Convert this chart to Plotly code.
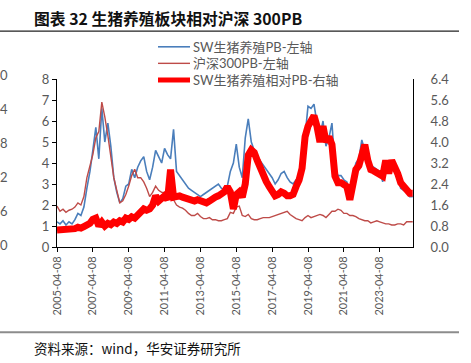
import pandas as pd
import plotly.graph_objects as go

# bimonthly observation dates (2005-04-08 ... 2025-02-08)
dates = pd.date_range("2005-04-01", periods=120, freq="2MS") + pd.Timedelta(days=7)

sw_pb = [
    1.2, 1.1, 1.25, 1.05, 1.2,
    1.1, 1.3, 1.6, 1.5, 1.9, 2.8,
    3.6, 4.6, 5.7, 4.2, 6.6, 5.0,
    5.9, 4.8, 3.3, 2.6, 2.1, 2.3,
    2.9, 3.0, 3.7, 3.3, 3.8, 4.1,
    4.3, 3.6, 3.2, 3.8, 4.6, 4.3,
    4.0, 4.7, 4.4, 4.2, 5.6, 3.6,
    3.4, 3.2, 3.0, 2.8, 2.7, 2.6,
    2.5, 2.4, 2.5, 2.6, 2.7, 2.8,
    2.9, 3.0, 2.8, 2.7, 2.9, 3.6,
    4.0, 4.9, 3.8, 3.3, 5.2, 6.1,
    5.0, 4.6, 4.3, 4.1, 3.9, 3.7,
    3.5, 3.3, 3.0, 3.2, 3.5, 3.6,
    3.3, 3.1, 3.0, 3.2, 3.3, 3.8,
    5.3, 6.7, 6.6, 6.8, 5.9, 5.3,
    6.0, 4.8, 5.2, 5.9, 3.8, 3.4,
    3.4, 3.2, 3.1, 2.6, 3.4, 4.0,
    4.2, 5.1, 4.6, 4.0, 3.9, 3.8,
    3.7, 3.6, 3.1, 3.9, 4.0, 3.8,
    3.9, 3.4, 2.8, 2.7, 2.6, 2.4,
    2.4,
]

hs300_pb = [
    1.95, 1.7, 1.8, 1.65, 1.75,
    1.8, 1.9, 2.1, 2.0, 2.4, 3.3,
    3.8, 4.4, 5.2, 5.5, 6.9, 6.2,
    5.3, 4.3, 3.3, 2.7, 2.1, 2.2,
    2.5, 2.9, 3.4, 3.7, 3.3, 3.3,
    3.1, 2.8, 2.4, 2.6, 2.9, 2.7,
    2.6, 2.6, 2.4, 2.3, 2.25, 2.0,
    1.9, 1.85, 1.75, 1.6, 1.5, 1.5,
    1.6, 1.45, 1.35, 1.35, 1.4, 1.3,
    1.3, 1.25, 1.25, 1.3, 1.35, 1.65,
    1.6, 1.9, 1.95, 1.5, 1.45, 1.55,
    1.35, 1.3, 1.3, 1.35, 1.4, 1.4,
    1.4, 1.45, 1.5, 1.55, 1.6, 1.65,
    1.7, 1.55, 1.45, 1.35, 1.3, 1.25,
    1.4, 1.5, 1.4, 1.45, 1.5, 1.55,
    1.5, 1.4, 1.55, 1.7, 1.7, 1.8,
    1.75, 1.6, 1.6, 1.5, 1.5, 1.45,
    1.35, 1.3, 1.25, 1.25, 1.15, 1.2,
    1.25, 1.2, 1.15, 1.1, 1.1, 1.05,
    1.05, 1.1, 1.1, 1.05, 1.2, 1.2,
    1.2,
]

rel_pb = [
    0.65, 0.65, 0.7, 0.65, 0.68,
    0.65, 0.7, 0.75, 0.72, 0.78, 0.85,
    0.9, 1.05, 1.1, 0.8, 0.95, 0.8,
    0.9, 0.85, 0.95, 0.9, 1.0, 0.95,
    1.1, 1.05, 1.15, 1.1, 1.25, 1.35,
    1.45, 1.4, 1.45, 1.6, 1.95, 1.75,
    1.85, 1.95, 1.8, 2.95, 1.9, 1.95,
    1.95, 1.9, 1.85, 1.8, 1.75, 1.75,
    1.8, 1.75, 1.7, 1.68, 1.75, 1.85,
    1.9, 1.95, 2.0, 2.1, 2.3, 2.1,
    1.45, 2.0, 2.1, 1.9, 2.4, 3.5,
    3.7, 3.6, 3.3, 3.0, 2.8, 2.5,
    2.3, 2.1, 1.95, 2.0, 2.1, 2.05,
    1.95, 1.95, 2.0, 2.3, 2.55, 3.0,
    4.2, 4.6, 4.8, 5.0, 4.6, 4.0,
    4.6, 4.0, 4.2, 3.9, 2.7, 2.45,
    2.45, 2.4, 2.3, 1.8, 2.5, 2.95,
    3.1, 3.5, 3.9, 3.3, 2.95, 2.9,
    2.85, 2.8, 2.7, 3.3, 2.8, 3.3,
    3.1, 2.8, 2.45, 2.3, 2.1, 2.05,
    2.05,
]

tick_dates = ["2005-04-08", "2007-04-08", "2009-04-08", "2011-04-08", "2013-04-08",
              "2015-04-08", "2017-04-08", "2019-04-08", "2021-04-08", "2023-04-08"]

legend_names = ["SW生猪养殖PB-左轴", "沪深300PB-左轴", "SW生猪养殖相对PB-右轴"]
colors = ["#4A7EBB", "#BE4B48", "#FF0000"]
widths = [1.6, 1.4, 7]

W, H = 471, 363
L, R, T, B = 57, 413, 79, 247.5
FONT = "Lato, 'Noto Sans CJK SC', sans-serif"
GREY = "#595959"

def px(x):
    return (x - L) / (R - L)

def py(y):
    return (B - y) / (B - T)

fig = go.Figure()
fig.add_trace(go.Scatter(x=dates, y=sw_pb, mode="lines", name=legend_names[0],
                         line=dict(color=colors[0], width=widths[0]), showlegend=False))
fig.add_trace(go.Scatter(x=dates, y=hs300_pb, mode="lines", name=legend_names[1],
                         line=dict(color=colors[1], width=widths[1]), showlegend=False))
fig.add_trace(go.Scatter(x=dates, y=rel_pb, mode="lines", name=legend_names[2], yaxis="y2",
                         line=dict(color=colors[2], width=widths[2]), showlegend=False))

shapes = []
annotations = []

# manual legend
leg_y = [46.7, 63.3, 80.0]
for i in range(3):
    shapes.append(dict(type="line", xref="paper", yref="paper",
                       x0=px(158), x1=px(190), y0=py(leg_y[i]), y1=py(leg_y[i]),
                       line=dict(color=colors[i], width=widths[i] if i < 2 else 5)))
    annotations.append(dict(text=legend_names[i], xref="paper", yref="paper",
                            x=px(191), y=py(leg_y[i]), xanchor="left", yanchor="middle",
                            showarrow=False, font=dict(family=FONT, size=13, color=GREY)))

# title and frame lines
annotations.append(dict(text="<b>图表 32 生猪养殖板块相对沪深 300PB</b>", xref="paper", yref="paper",
                        x=px(32), y=py(18), xanchor="left", yanchor="middle", showarrow=False,
                        font=dict(family="'Noto Sans CJK SC', sans-serif", size=15.8, color="#111111")))
shapes.append(dict(type="line", xref="paper", yref="paper", x0=px(0), x1=px(459),
                   y0=py(31), y1=py(31), line=dict(color="#222222", width=1.3)))
shapes.append(dict(type="line", xref="paper", yref="paper", x0=px(0), x1=px(459),
                   y0=py(333), y1=py(333), line=dict(color="#8C8C8C", width=2)))
annotations.append(dict(text="资料来源：wind，华安证券研究所", xref="paper", yref="paper",
                        x=px(32), y=py(349), xanchor="left", yanchor="middle", showarrow=False,
                        font=dict(family="'Noto Sans CJK SC', sans-serif", size=13.5, color="#111111")))

# clipped labels of a neighbouring chart at the far left
ghost = ["0", "4", "8", "2", "6", "0"]
ghost_y = [75, 109, 143, 177, 211, 245]
for t, gy in zip(ghost, ghost_y):
    annotations.append(dict(text=t, xref="paper", yref="paper", x=px(4), y=py(gy),
                            xanchor="center", yanchor="middle", showarrow=False,
                            font=dict(family=FONT, size=13, color=GREY)))

fig.update_layout(
    width=W, height=H,
    margin=dict(l=L, r=W - R, t=T, b=H - B),
    paper_bgcolor="white", plot_bgcolor="white",
    showlegend=False,
    font=dict(family=FONT, size=12, color=GREY),
    xaxis=dict(type="date", range=["2005-04-08", "2025-02-14"],
               tickvals=tick_dates, ticktext=tick_dates, tickangle=-90,
               tickfont=dict(size=11, color=GREY),
               showgrid=False, zeroline=False, showline=True, linecolor="#000000", linewidth=1,
               ticks="outside", ticklen=4, tickcolor="#000000"),
    yaxis=dict(range=[0, 8], dtick=1, showgrid=False, zeroline=False,
               showline=True, linecolor="#000000", linewidth=1,
               ticks="outside", ticklen=4, tickcolor="#000000",
               tickfont=dict(size=13, color=GREY)),
    yaxis2=dict(range=[0, 6.4], dtick=0.8, tickformat=".1f", overlaying="y", side="right",
                showgrid=False, zeroline=False, showline=True, linecolor="#000000", linewidth=1,
                ticks="", ticklabelstandoff=14,
                tickfont=dict(size=13, color=GREY)),
    shapes=shapes, annotations=annotations,
)

fig.write_html("out.html", config={"displayModeBar": False},
               post_script="document.body.style.margin='0';document.body.style.overflow='hidden';")
